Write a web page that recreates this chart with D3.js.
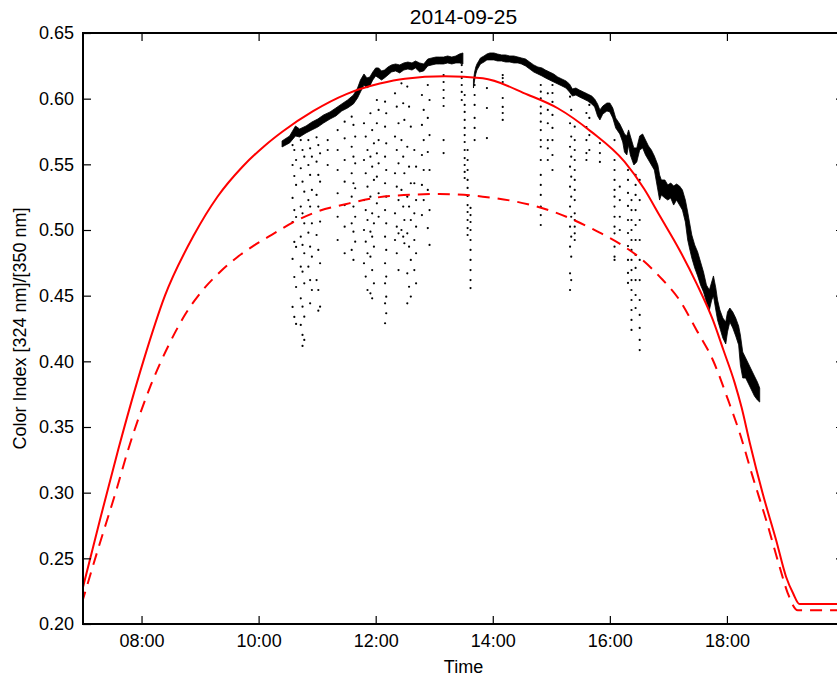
<!DOCTYPE html>
<html>
<head>
<meta charset="utf-8">
<script src="https://cdn.jsdelivr.net/npm/d3@7/dist/d3.min.js"></script>
<style>
  body { margin: 0; background: #fff; }
  text { font-family: "Liberation Sans", Arial, Helvetica, sans-serif; fill: #000; }
</style>
</head>
<body>
<svg id="chart" width="837" height="679"></svg>
<script>
// ---- data (time in decimal hours, value = colour index 324/350 nm) ----
const chartTitle = "2014-09-25";
const xLabel = "Time";
const yLabel = "Color Index [324 nm]/[350 nm]";
const timeTicks = [8, 10, 12, 14, 16, 18];
const valueTicks = [0.20, 0.25, 0.30, 0.35, 0.40, 0.45, 0.50, 0.55, 0.60, 0.65];

// modelled clear-sky index (solid) and its lower variant (dashed)
const modelTime = [6.98, 7.30, 7.60, 8.03, 8.40, 8.90, 9.30, 9.72, 10.10, 10.41, 10.93, 11.50, 12.07, 12.50, 13.18, 13.83, 14.60, 15.11, 15.68, 16.25, 16.59, 16.85, 17.19, 17.48, 17.76, 17.94, 18.13, 18.25, 18.39, 18.61, 18.84, 19.01, 19.13, 19.24, 20.0];
const modelValue = [0.2246, 0.2810, 0.3325, 0.4000, 0.4500, 0.4965, 0.5255, 0.5480, 0.5640, 0.5750, 0.5905, 0.6035, 0.6115, 0.6152, 0.6170, 0.6155, 0.6030, 0.5927, 0.5749, 0.5520, 0.5310, 0.5110, 0.4848, 0.4594, 0.4315, 0.4086, 0.3840, 0.3650, 0.3380, 0.2995, 0.2640, 0.2360, 0.2234, 0.2152, 0.2152];

const lowerTime = [6.98, 7.25, 7.57, 7.77, 8.16, 8.46, 8.75, 9.05, 9.34, 9.64, 9.93, 10.23, 10.64, 10.97, 11.50, 12.24, 13.09, 13.83, 14.60, 15.11, 15.68, 16.25, 16.55, 16.85, 17.19, 17.48, 17.76, 18.02, 18.22, 18.44, 18.67, 18.90, 19.04, 19.21, 20.0];
const lowerValue = [0.2158, 0.2560, 0.3020, 0.3325, 0.3820, 0.4120, 0.4360, 0.4545, 0.4680, 0.4795, 0.4885, 0.4965, 0.5070, 0.5135, 0.5198, 0.5259, 0.5274, 0.5254, 0.5196, 0.5127, 0.5013, 0.4873, 0.4775, 0.4645, 0.4467, 0.4239, 0.4010, 0.3706, 0.3452, 0.3122, 0.2792, 0.2436, 0.2234, 0.2105, 0.2105];

// dense measurements: [time, highest reading, lowest reading] per time bin
const bandMorning = [
  [10.40, 0.5678, 0.5632], [10.53, 0.5716, 0.5663], [10.63, 0.5792, 0.5716], [10.70, 0.5769, 0.5708],
  [10.81, 0.5792, 0.5739], [10.91, 0.5822, 0.5762], [11.01, 0.5845, 0.5784], [11.11, 0.5876, 0.5815],
  [11.22, 0.5899, 0.5845], [11.32, 0.5929, 0.5868], [11.42, 0.5960, 0.5906], [11.52, 0.5990, 0.5929],
  [11.62, 0.6028, 0.5960], [11.69, 0.6081, 0.6005], [11.74, 0.6142, 0.6051], [11.80, 0.6188, 0.6104],
  [11.85, 0.6158, 0.6081], [11.90, 0.6165, 0.6097], [11.95, 0.6203, 0.6142], [12.00, 0.6234, 0.6173],
  [12.05, 0.6234, 0.6158], [12.10, 0.6211, 0.6142], [12.15, 0.6218, 0.6158], [12.21, 0.6241, 0.6180],
  [12.27, 0.6257, 0.6203], [12.34, 0.6264, 0.6211], [12.41, 0.6257, 0.6196], [12.48, 0.6272, 0.6218],
  [12.55, 0.6279, 0.6226], [12.62, 0.6272, 0.6218], [12.68, 0.6287, 0.6234], [12.75, 0.6272, 0.6203],
  [12.82, 0.6264, 0.6211], [12.89, 0.6302, 0.6249], [12.96, 0.6310, 0.6257], [13.03, 0.6317, 0.6264],
  [13.09, 0.6317, 0.6264], [13.16, 0.6317, 0.6264], [13.23, 0.6325, 0.6272], [13.30, 0.6317, 0.6264],
  [13.37, 0.6325, 0.6272], [13.43, 0.6340, 0.6272], [13.49, 0.6348, 0.6264]
];
const bandAfternoon = [
  [13.67, 0.6142, 0.6081], [13.69, 0.6203, 0.6142], [13.71, 0.6241, 0.6188], [13.73, 0.6264, 0.6218],
  [13.76, 0.6287, 0.6241], [13.79, 0.6310, 0.6264], [13.85, 0.6325, 0.6279], [13.90, 0.6340, 0.6295],
  [13.95, 0.6348, 0.6295], [14.02, 0.6348, 0.6295], [14.08, 0.6340, 0.6287], [14.15, 0.6333, 0.6287],
  [14.22, 0.6333, 0.6279], [14.29, 0.6325, 0.6279], [14.36, 0.6325, 0.6272], [14.43, 0.6317, 0.6272],
  [14.49, 0.6310, 0.6264], [14.56, 0.6302, 0.6249], [14.63, 0.6279, 0.6226], [14.70, 0.6257, 0.6203],
  [14.77, 0.6241, 0.6188], [14.84, 0.6234, 0.6173], [14.90, 0.6218, 0.6158], [14.97, 0.6203, 0.6142],
  [15.04, 0.6188, 0.6127], [15.11, 0.6165, 0.6112], [15.18, 0.6150, 0.6097], [15.25, 0.6135, 0.6081],
  [15.31, 0.6112, 0.6051], [15.36, 0.6074, 0.6020], [15.42, 0.6081, 0.6028], [15.48, 0.6066, 0.6013],
  [15.55, 0.6051, 0.5998], [15.62, 0.6036, 0.5982], [15.69, 0.6020, 0.5960], [15.74, 0.5998, 0.5937],
  [15.79, 0.5960, 0.5868], [15.83, 0.5914, 0.5838], [15.88, 0.5944, 0.5883], [15.95, 0.5967, 0.5906],
  [16.00, 0.5967, 0.5899], [16.05, 0.5929, 0.5853], [16.10, 0.5853, 0.5777], [16.17, 0.5807, 0.5731],
  [16.22, 0.5762, 0.5670], [16.25, 0.5731, 0.5594], [16.29, 0.5716, 0.5571], [16.32, 0.5762, 0.5647],
  [16.35, 0.5716, 0.5571], [16.41, 0.5625, 0.5495], [16.46, 0.5625, 0.5518], [16.51, 0.5716, 0.5609],
  [16.56, 0.5731, 0.5625], [16.61, 0.5685, 0.5571], [16.66, 0.5640, 0.5533], [16.71, 0.5609, 0.5495],
  [16.76, 0.5564, 0.5457], [16.82, 0.5495, 0.5305], [16.85, 0.5419, 0.5228], [16.88, 0.5381, 0.5267],
  [16.94, 0.5381, 0.5244], [16.99, 0.5343, 0.5228], [17.04, 0.5358, 0.5244], [17.09, 0.5335, 0.5190],
  [17.14, 0.5350, 0.5228], [17.19, 0.5335, 0.5190], [17.24, 0.5305, 0.5152], [17.29, 0.5228, 0.5061],
  [17.33, 0.5137, 0.4924], [17.36, 0.5061, 0.4863], [17.40, 0.4962, 0.4787], [17.45, 0.4886, 0.4711],
  [17.50, 0.4833, 0.4650], [17.55, 0.4756, 0.4581], [17.60, 0.4680, 0.4528], [17.65, 0.4581, 0.4452],
  [17.70, 0.4543, 0.4391], [17.74, 0.4604, 0.4467], [17.77, 0.4650, 0.4498], [17.81, 0.4559, 0.4391],
  [17.84, 0.4467, 0.4315], [17.88, 0.4391, 0.4254], [17.93, 0.4330, 0.4178], [17.98, 0.4300, 0.4132],
  [18.01, 0.4376, 0.4224], [18.05, 0.4406, 0.4300], [18.10, 0.4376, 0.4254], [18.15, 0.4330, 0.4193],
  [18.20, 0.4269, 0.4125], [18.23, 0.4201, 0.3972], [18.27, 0.4071, 0.3873], [18.32, 0.4026, 0.3873],
  [18.37, 0.3980, 0.3828], [18.42, 0.3934, 0.3782], [18.47, 0.3888, 0.3736], [18.52, 0.3843, 0.3706],
  [18.56, 0.3797, 0.3690]
];

// isolated readings under passing clouds: [time, value, value, ...]
const cloudReadings = [
  [10.58, 0.5647, 0.5495, 0.5244, 0.5061, 0.4780, 0.4414],
  [10.61, 0.5609, 0.5411, 0.5152, 0.4909, 0.4642, 0.4338],
  [10.64, 0.5533, 0.5343, 0.5099, 0.4871, 0.4566, 0.4285],
  [10.72, 0.5685, 0.5470, 0.5178, 0.4949, 0.4721, 0.4480, 0.4277],
  [10.75, 0.5609, 0.5368, 0.5127, 0.4886, 0.4683, 0.4416, 0.4201, 0.4117],
  [10.78, 0.5558, 0.5292, 0.5051, 0.4823, 0.4594, 0.4340, 0.4163],
  [10.85, 0.5685, 0.5495, 0.5228, 0.4980, 0.4721],
  [10.88, 0.5622, 0.5419, 0.5178, 0.4873, 0.4619, 0.4442],
  [10.91, 0.5558, 0.5305, 0.5051, 0.4797, 0.4543],
  [10.99, 0.5706, 0.5520, 0.5267, 0.4962, 0.4619],
  [11.02, 0.5647, 0.5419, 0.5178, 0.4848, 0.4543, 0.4386],
  [11.05, 0.5584, 0.5368, 0.5064, 0.4747, 0.4416],
  [11.18, 0.5685, 0.5609, 0.5495],
  [11.35, 0.5901, 0.5761, 0.5609, 0.5457, 0.5280, 0.5101, 0.4924],
  [11.47, 0.5825, 0.5698, 0.5533, 0.5368, 0.5190, 0.5025, 0.4823],
  [11.59, 0.5863, 0.5634, 0.5432, 0.5254, 0.5051, 0.4848],
  [11.62, 0.5800, 0.5558, 0.5356, 0.5178, 0.4987, 0.4772],
  [11.65, 0.5711, 0.5508, 0.5318, 0.5101, 0.4911],
  [11.80, 0.5813, 0.5533, 0.5228, 0.5000, 0.4747],
  [11.83, 0.5711, 0.5432, 0.5152, 0.4911, 0.4645],
  [11.86, 0.5609, 0.5330, 0.5076, 0.4823, 0.4543],
  [11.91, 0.5889, 0.5558, 0.5254, 0.4987, 0.4797, 0.4518],
  [11.94, 0.5761, 0.5482, 0.5127, 0.4949, 0.4695, 0.4480],
  [11.97, 0.5660, 0.5381, 0.5051, 0.4873, 0.4594],
  [12.02, 0.5990, 0.5813, 0.5584, 0.5406, 0.5203],
  [12.05, 0.5914, 0.5685, 0.5508, 0.5280, 0.5101],
  [12.16, 0.5977, 0.5787, 0.5558, 0.5356, 0.5152, 0.4949, 0.4747, 0.4594, 0.4442, 0.4290],
  [12.18, 0.5889, 0.5660, 0.5457, 0.5254, 0.5051, 0.4848, 0.4645, 0.4492, 0.4366],
  [12.33, 0.6041, 0.5711, 0.5432, 0.5127, 0.4924],
  [12.36, 0.5939, 0.5609, 0.5330, 0.5025, 0.4823],
  [12.39, 0.5813, 0.5508, 0.5228, 0.4975, 0.4695],
  [12.44, 0.6117, 0.5685, 0.5305, 0.5000],
  [12.47, 0.5965, 0.5558, 0.5178, 0.4949],
  [12.49, 0.5838, 0.5432, 0.5076, 0.4899],
  [12.54, 0.6092, 0.5634, 0.5254, 0.4975, 0.4670, 0.4442],
  [12.57, 0.5939, 0.5482, 0.5178, 0.4873, 0.4568],
  [12.60, 0.5787, 0.5356, 0.5076, 0.4772, 0.4493],
  [12.66, 0.5609, 0.5356, 0.5127, 0.4924, 0.4695],
  [12.69, 0.5482, 0.5228, 0.5025, 0.4823, 0.4594],
  [12.79, 0.6028, 0.5800, 0.5571, 0.5343, 0.5114],
  [12.82, 0.5914, 0.5685, 0.5457, 0.5228],
  [12.89, 0.6104, 0.5853, 0.5594, 0.5305, 0.5015],
  [12.92, 0.5990, 0.5723, 0.5457, 0.5152, 0.4886],
  [13.16, 0.6180, 0.6127, 0.6066, 0.6005, 0.5944, 0.5685, 0.5586],
  [13.47, 0.6256, 0.6203, 0.6157, 0.6104, 0.6051, 0.5990],
  [13.52, 0.6028, 0.5952, 0.5899, 0.5838, 0.5777, 0.5723, 0.5670, 0.5609, 0.5548, 0.5495, 0.5442, 0.5396],
  [13.57, 0.5609, 0.5533, 0.5457, 0.5381, 0.5320, 0.5259, 0.5190, 0.5137, 0.5076, 0.5015, 0.4962],
  [13.62, 0.5168, 0.5114, 0.5061, 0.5000, 0.4924, 0.4848, 0.4772, 0.4695, 0.4619, 0.4558],
  [13.69, 0.6104, 0.6028, 0.5952, 0.5853, 0.5777, 0.5685],
  [13.90, 0.6081, 0.5929, 0.5700],
  [14.17, 0.6180, 0.6157, 0.6127, 0.6005, 0.5937, 0.5891, 0.5838],
  [14.82, 0.6104, 0.6053, 0.6003, 0.5939, 0.5888, 0.5825, 0.5761, 0.5685, 0.5634, 0.5533, 0.5419, 0.5343, 0.5267, 0.5178, 0.5114, 0.5038],
  [14.94, 0.6041, 0.5914, 0.5813, 0.5685, 0.5622, 0.5533],
  [15.02, 0.6104, 0.6043, 0.5975, 0.5876, 0.5777, 0.5685, 0.5571, 0.5457],
  [15.32, 0.6015, 0.5813, 0.5634, 0.5482, 0.5330, 0.5178, 0.5025, 0.4873, 0.4670, 0.4543],
  [15.34, 0.5914, 0.5711, 0.5558, 0.5406, 0.5254, 0.5101, 0.4949, 0.4797, 0.4619],
  [15.40, 0.5787, 0.5685, 0.5609, 0.5533, 0.5457, 0.5381, 0.5305, 0.5228, 0.5127, 0.5076, 0.5025, 0.4975, 0.4924],
  [15.60, 0.5891, 0.5784, 0.5685, 0.5586, 0.5533],
  [15.65, 0.5952, 0.5853, 0.5723, 0.5609],
  [15.83, 0.5662, 0.5586, 0.5518],
  [16.08, 0.5685, 0.5533, 0.5457, 0.5381, 0.5305, 0.5254, 0.5178, 0.5101, 0.5025, 0.4975, 0.4873, 0.4797, 0.4772],
  [16.17, 0.5330, 0.5228, 0.5101, 0.5000],
  [16.31, 0.5457, 0.5381, 0.5282, 0.5183, 0.5076, 0.4977, 0.4878, 0.4772, 0.4673, 0.4597],
  [16.37, 0.5228, 0.5152, 0.5076, 0.5000, 0.4924, 0.4848, 0.4772, 0.4695, 0.4619, 0.4543, 0.4467, 0.4391, 0.4315, 0.4239],
  [16.44, 0.5419, 0.5343, 0.5267, 0.5152, 0.5038, 0.4924, 0.4810, 0.4711, 0.4619, 0.4505, 0.4406],
  [16.51, 0.5381, 0.5228, 0.5076, 0.4924, 0.4772, 0.4619, 0.4467, 0.4353, 0.4254, 0.4163, 0.4086]
];

// ---- layout ----
const svg = d3.select("#chart");
const plot = { left: 83, right: 844, top: 33, bottom: 624 };

const x = d3.scaleLinear().domain([7, 20]).range([plot.left, plot.right]);
const y = d3.scaleLinear().domain([0.20, 0.65]).range([plot.bottom, plot.top]);
const hhmm = h => String(Math.floor(h)).padStart(2, "0") + ":" + String(Math.round((h % 1) * 60)).padStart(2, "0");

svg.append("defs").append("clipPath").attr("id", "plotArea")
  .append("rect")
  .attr("x", plot.left).attr("y", plot.top)
  .attr("width", plot.right - plot.left).attr("height", plot.bottom - plot.top);

const layer = svg.append("g").attr("clip-path", "url(#plotArea)");

// dense readings
const band = d3.area()
  .x(d => x(d[0]))
  .y0(d => y(d[2]))
  .y1(d => y(d[1]));
[bandMorning, bandAfternoon].forEach(rows => {
  layer.append("path")
    .attr("d", band(rows))
    .attr("fill", "#000")
    .attr("stroke", "#000")
    .attr("stroke-width", 0.8)
    .attr("stroke-linejoin", "round");
});

// scattered readings
const dots = [];
cloudReadings.forEach(col => col.slice(1).forEach(v => dots.push([col[0], v])));
layer.append("g").selectAll("circle")
  .data(dots)
  .join("circle")
  .attr("cx", d => x(d[0]))
  .attr("cy", d => y(d[1]))
  .attr("r", 1.1)
  .attr("fill", "#000");

// model curves
const curve = (t, v) => d3.line()
  .x(i => x(t[i]))
  .y(i => y(v[i]))
  .curve(d3.curveMonotoneX)(d3.range(t.length));

layer.append("path")
  .attr("d", curve(lowerTime, lowerValue))
  .attr("fill", "none")
  .attr("stroke", "#ff0000")
  .attr("stroke-width", 2)
  .attr("stroke-dasharray", "12,8");

layer.append("path")
  .attr("d", curve(modelTime, modelValue))
  .attr("fill", "none")
  .attr("stroke", "#ff0000")
  .attr("stroke-width", 2);

// ---- axes (ticks point inward on all four sides) ----
const fontSize = 18;
const styleAxis = g => {
  g.select(".domain").remove();
  g.selectAll(".tick line").attr("stroke", "#000").attr("stroke-width", 1.2);
  g.selectAll(".tick text")
    .attr("font-family", "'Liberation Sans', Arial, sans-serif")
    .attr("font-size", fontSize)
    .attr("fill", "#000");
};

svg.append("g")
  .attr("transform", `translate(0,${plot.bottom})`)
  .call(d3.axisBottom(x).tickValues(timeTicks).tickFormat(hhmm).tickSize(-8).tickPadding(10))
  .call(styleAxis);

svg.append("g")
  .attr("transform", `translate(0,${plot.top})`)
  .call(d3.axisTop(x).tickValues(timeTicks).tickFormat("").tickSize(-8))
  .call(styleAxis);

svg.append("g")
  .attr("transform", `translate(${plot.left},0)`)
  .call(d3.axisLeft(y).tickValues(valueTicks).tickFormat(d3.format(".2f")).tickSize(-8).tickPadding(9))
  .call(styleAxis);

svg.append("g")
  .attr("transform", `translate(${plot.right},0)`)
  .call(d3.axisRight(y).tickValues(valueTicks).tickFormat("").tickSize(-8))
  .call(styleAxis);

// frame
svg.append("rect")
  .attr("x", plot.left).attr("y", plot.top)
  .attr("width", plot.right - plot.left).attr("height", plot.bottom - plot.top)
  .attr("fill", "none")
  .attr("stroke", "#000")
  .attr("stroke-width", 2);

// ---- titles ----
const midX = (plot.left + plot.right) / 2;
svg.append("text")
  .attr("x", midX).attr("y", 24)
  .attr("text-anchor", "middle")
  .attr("font-size", 21)
  .text(chartTitle);

svg.append("text")
  .attr("x", midX).attr("y", 673)
  .attr("text-anchor", "middle")
  .attr("font-size", fontSize)
  .text(xLabel);

svg.append("text")
  .attr("transform", `translate(26,${(plot.top + plot.bottom) / 2}) rotate(-90)`)
  .attr("text-anchor", "middle")
  .attr("font-size", fontSize)
  .text(yLabel);
</script>
</body>
</html>
